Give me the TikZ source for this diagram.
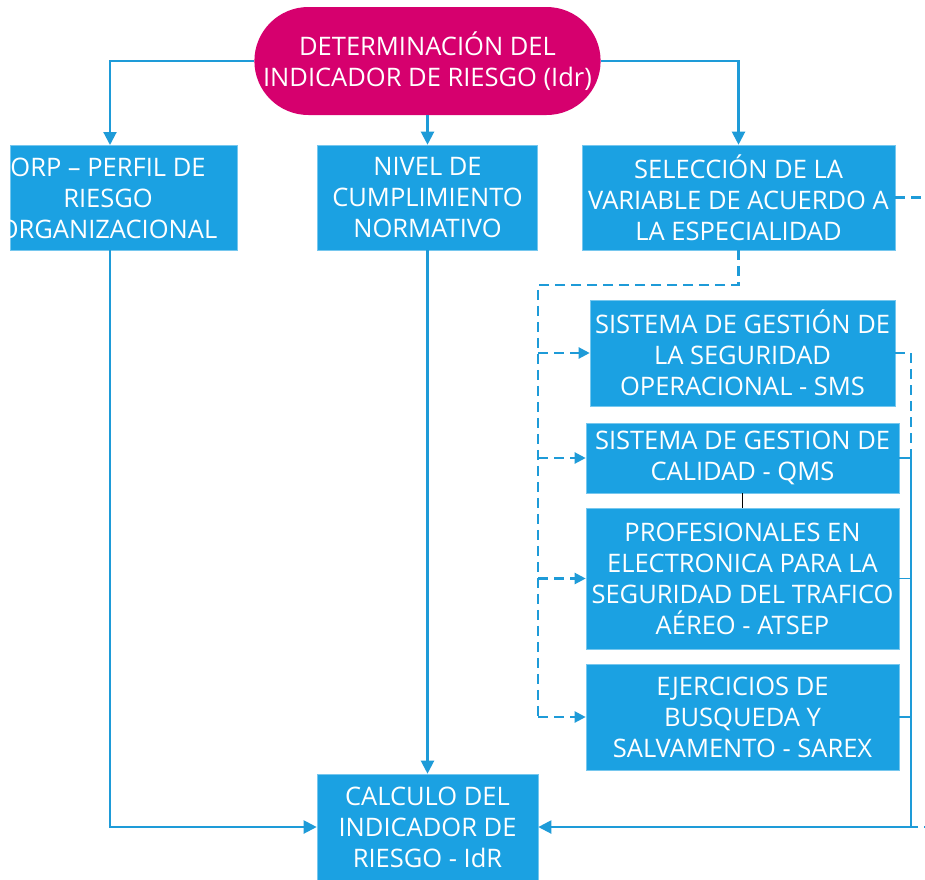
\documentclass[tikz,border=0pt]{standalone}
\usepackage{fontspec}
\setmainfont{Open Sans}
\usepackage{tikz}
\usetikzlibrary{arrows.meta,shapes.misc}
\definecolor{azul}{HTML}{1BA1E2}
\definecolor{linea}{HTML}{1E9BD8}
\definecolor{rosa}{HTML}{D6006E}
\tikzset{
  caja/.style={fill=azul, draw=azul!60!white, line width=0.6pt, text=white, inner sep=0pt, align=center,
    font=\fontsize{25.5}{31}\selectfont},
  texto/.style={text=white, inner sep=0pt, align=center, font=\fontsize{25.5}{31}\selectfont},
  inicio/.style={rounded rectangle, fill=rosa, text=white, inner sep=0pt, align=center,
    minimum width=341pt, minimum height=108pt, font=\fontsize{25.5}{31}\selectfont},
  flujo/.style={draw=linea, line width=2.1pt, -{Triangle[length=13pt,width=13pt]}},
  guia/.style={draw=linea, line width=2.2pt, dash pattern=on 10pt off 6pt},
  guiaflecha/.style={guia, -{Triangle[length=11pt,width=11pt]}},
  nexo/.style={draw=linea, line width=1.9pt},
}

\begin{document}
\begin{tikzpicture}[x=1pt,y=-1pt]
  \useasboundingbox (0,0) rectangle (925,879);
  \clip (0,0) rectangle (925,879);
  % cabecera
  \node[inicio] (det) at (427.5,61) {DETERMINACIÓN DEL\\INDICADOR DE RIESGO (Idr)};
  % primera fila
  \node[caja, minimum width=227pt, minimum height=105pt] (orp) at (123.5,197.5) {};
  \node[texto] (orptxt) at (108,198) {ORP – PERFIL DE\\RIESGO\\ORGANIZACIONAL};
  \node[caja, minimum width=220pt, minimum height=105pt] (nivel) at (427.5,197.5) {NIVEL DE\\CUMPLIMIENTO\\NORMATIVO};
  \node[caja, minimum width=313pt, minimum height=105pt] (sel) at (738.5,197.5) {SELECCIÓN DE LA\\VARIABLE DE ACUERDO A\\LA ESPECIALIDAD};
  % especialidades
  \node[caja, minimum width=305pt, minimum height=106pt] (sms) at (742.5,353) {SISTEMA DE GESTIÓN DE\\LA SEGURIDAD\\OPERACIONAL - SMS};
  \node[caja, minimum width=313pt, minimum height=70pt] (qms) at (742.5,458) {SISTEMA DE GESTION DE\\CALIDAD - QMS};
  \node[caja, minimum width=313pt, minimum height=141pt] (atsep) at (742.5,578.5) {PROFESIONALES EN\\ELECTRONICA PARA LA\\SEGURIDAD DEL TRAFICO\\AÉREO - ATSEP};
  \node[caja, minimum width=313pt, minimum height=106pt] (sarex) at (742.5,717) {EJERCICIOS DE\\BUSQUEDA Y\\SALVAMENTO - SAREX};
  % resultado
  \node[caja, minimum width=221pt, minimum height=106pt] (calc) at (427.5,827) {CALCULO DEL\\INDICADOR DE\\RIESGO - IdR};

  \coordinate (orpin) at (110,145);
  \coordinate (orpout) at (110,250);
  \coordinate (ltop) at (538,285);
  \coordinate (lbot) at (538,717);
  \coordinate (rbus) at (911,827);
  \coordinate (rfar) at (960,827);

  \draw[flujo] (det.west) -| (orpin);
  \draw[flujo] (det.south) -- (nivel.north);
  \draw[flujo] (det.east) -| (sel.north);
  \draw[flujo] (orpout) |- (calc.west);
  \draw[flujo] (nivel.south) -- (calc.north);

  \draw[guia] (sel.south) |- (ltop) -- (lbot);
  \foreach \n in {sms,qms,atsep,sarex}
    \draw[guiaflecha] (\n.west -| ltop) -- (\n.west);

  \draw[draw=black, line width=1.8pt] (qms.south) -- (atsep.north);

  \foreach \n in {qms,atsep,sarex}
    \draw[nexo] (\n.east) -| (rbus);
  \draw[guia] (sms.east) -| (rbus);
  \draw[guia] (sel.east) -| (rfar) -- (rbus);
  \draw[flujo] (rbus) -- (calc.east);
\end{tikzpicture}
\end{document}
